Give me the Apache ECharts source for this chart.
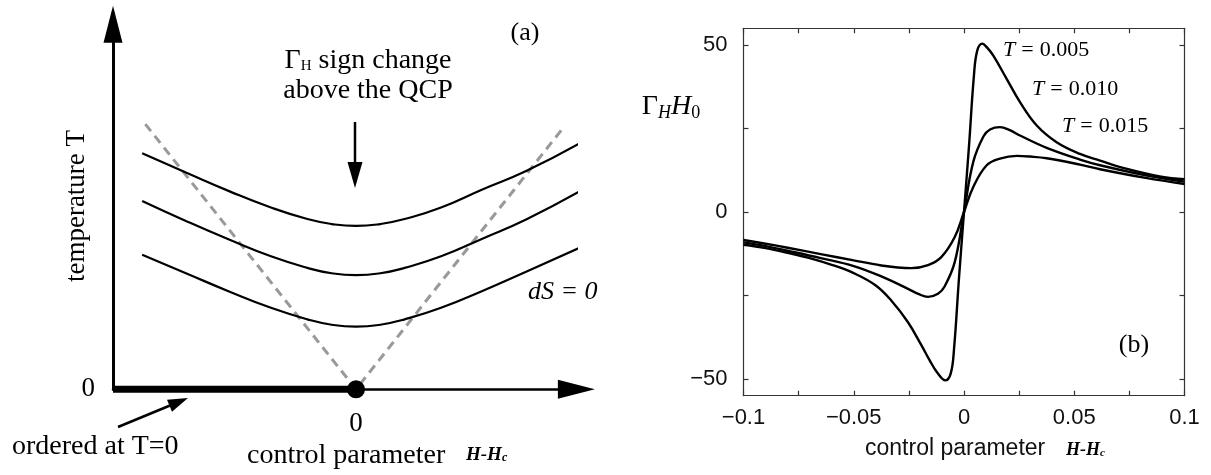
<!DOCTYPE html>
<html>
<head>
<meta charset="utf-8">
<script src="https://cdn.jsdelivr.net/npm/echarts@6/dist/echarts.min.js"></script>
<style>
html,body{margin:0;padding:0;background:#fff;}
#chart{width:1211px;height:475px;}
</style>
</head>
<body>
<div id="chart"></div>
<script>
// ---------- Panel (a): schematic ----------
const aX = [-0.88, -0.7, -0.52, -0.35, -0.2, -0.1, 0, 0.1, 0.2, 0.35, 0.52, 0.7, 0.92];
const aTop = [0.614, 0.564, 0.515, 0.473, 0.443, 0.430, 0.425, 0.430, 0.443, 0.473, 0.520, 0.568, 0.640];
const aMid = [0.490, 0.438, 0.389, 0.346, 0.316, 0.302, 0.297, 0.302, 0.316, 0.346, 0.392, 0.442, 0.515];
const aBot = [0.350, 0.302, 0.254, 0.212, 0.182, 0.168, 0.163, 0.168, 0.182, 0.212, 0.256, 0.306, 0.368];
const aDashX = [-0.867, 0, 0.856];
const aDashT = [0.69, 0, 0.683];
const aOrderedX = [-1, 0];
const aOrderedT = [0, 0];
const aQcpX = [0];
const aQcpT = [0];
const aTickLabels = [0];

// ---------- Panel (b): Gamma_H H0 vs H-Hc ----------
const b005X = [-0.1, -0.09, -0.08, -0.07, -0.06, -0.05, -0.04, -0.033, -0.0254, -0.0194, -0.0155, -0.012, -0.0085, -0.006, -0.0045, -0.0023, 0, 0.0023, 0.0045, 0.006, 0.0083, 0.0105, 0.0133, 0.0194, 0.0254, 0.033, 0.042, 0.0526, 0.0617, 0.0735, 0.0894, 0.1];
const b005Y = [-9.8, -10.8, -12.2, -13.8, -15.8, -18.3, -22.0, -26.5, -33.0, -39.8, -44.5, -48.2, -50.4, -48.3, -40.8, -20.0, 0, 20.0, 40.8, 48.3, 50.4, 49.2, 46.8, 39.8, 32.9, 25.9, 20.9, 17.4, 15.4, 13.0, 10.6, 9.8];
const b010X = [-0.1, -0.09, -0.08, -0.065, -0.05, -0.0375, -0.0254, -0.0205, -0.0163, -0.0118, -0.0088, -0.0042, 0, 0.0042, 0.0088, 0.0118, 0.0163, 0.0205, 0.0254, 0.0375, 0.0526, 0.0617, 0.0824, 0.1];
const b010Y = [-9.1, -10.2, -11.6, -13.8, -16.2, -19.3, -23.0, -24.6, -25.4, -24.5, -22.3, -15.0, 0, 15.0, 22.6, 24.7, 25.4, 24.6, 22.9, 19.2, 15.7, 14.0, 11.0, 9.1];
const b015X = [-0.1, -0.09, -0.08, -0.065, -0.05, -0.0375, -0.03, -0.0239, -0.0163, -0.0103, -0.0042, 0, 0.0042, 0.0103, 0.0163, 0.0239, 0.03, 0.0375, 0.0526, 0.0617, 0.0824, 0.1];
const b015Y = [-8.4, -9.5, -10.7, -12.6, -14.5, -16.0, -16.6, -16.8, -15.9, -13.5, -7.5, 0, 7.5, 14.0, 16.0, 16.8, 16.6, 16.1, 14.2, 12.8, 10.2, 8.4];
const bXTicks = [-0.1, -0.075, -0.05, -0.025, 0, 0.025, 0.05, 0.075, 0.1];
const bXLabels = [-0.1, -0.05, 0, 0.05, 0.1];
const bYTicks = [-50, -25, 0, 25, 50];
const bYLabels = [-50, 0, 50];
const bSeriesNames = ['T = 0.005', 'T = 0.010', 'T = 0.015'];

function pairs(xs, ys) { return xs.map((x, i) => [x, ys[i]]); }
const SERIF = '"Liberation Serif", "Times New Roman", serif';
const SANS = '"Liberation Sans", Arial, Helvetica, sans-serif';
const minus = v => String(v).replace('-', '\u2212');

const chart = echarts.init(document.getElementById('chart'), null, {renderer: 'canvas'});

const boxAxis = {
  axisLine: {show: true, onZero: false, lineStyle: {color: '#333', width: 1.2}},
  splitLine: {show: false}
};
const tLabel = (txt) => ({
  text: '{i|T}{e|=}' + txt, fontSize: 22, fontFamily: SERIF, fill: '#000', align: 'left', verticalAlign: 'middle',
  rich: {i: {fontSize: 22, fontStyle: 'italic', fontFamily: SERIF, fill: '#000'},
         e: {fontSize: 22, fontFamily: SERIF, fill: '#000', padding: [0, 6, 0, 6]}}
});

const option = {
  animation: false,
  backgroundColor: '#fff',
  grid: [
    {left: 113, top: 24.2, width: 463.4, height: 365.1, containLabel: false, outerBoundsMode: 'none'},
    {left: 743.5, top: 28.3, width: 441, height: 367.4, containLabel: false, outerBoundsMode: 'none'}
  ],
  xAxis: [
    {
      gridIndex: 0, type: 'value', min: -1, max: 0.907,
      axisLine: {show: true, onZero: false, symbol: ['none', 'triangle'], symbolSize: [19, 37], lineStyle: {color: '#000', width: 2.5}},
      axisTick: {show: false}, splitLine: {show: false},
      axisLabel: {customValues: aTickLabels, margin: 21, fontSize: 27, fontFamily: SERIF, color: '#000'}
    },
    Object.assign({
      gridIndex: 1, type: 'value', min: -0.1, max: 0.1, position: 'bottom',
      axisTick: {show: true, inside: true, length: 5, customValues: bXTicks, lineStyle: {color: '#333', width: 1.2}},
      axisLabel: {customValues: bXLabels, margin: 11, fontSize: 22, fontFamily: SANS, color: '#111', formatter: minus}
    }, boxAxis),
    Object.assign({
      gridIndex: 1, type: 'value', min: -0.1, max: 0.1, position: 'top',
      axisTick: {show: true, inside: true, length: 5, customValues: bXTicks, lineStyle: {color: '#333', width: 1.2}},
      axisLabel: {show: false}
    }, boxAxis)
  ],
  yAxis: [
    {
      gridIndex: 0, type: 'value', min: 0, max: 0.95,
      axisLine: {show: true, onZero: false, symbol: ['none', 'triangle'], symbolSize: [19, 37], lineStyle: {color: '#000', width: 3}},
      axisTick: {show: false}, splitLine: {show: false},
      axisLabel: {customValues: aTickLabels, margin: 18, fontSize: 27, fontFamily: SERIF, color: '#000'}
    },
    Object.assign({
      gridIndex: 1, type: 'value', min: -55, max: 55, position: 'left',
      axisTick: {show: true, inside: true, length: 5, customValues: bYTicks, lineStyle: {color: '#333', width: 1.2}},
      axisLabel: {customValues: bYLabels, margin: 16, fontSize: 22, fontFamily: SANS, color: '#111', formatter: minus}
    }, boxAxis),
    Object.assign({
      gridIndex: 1, type: 'value', min: -55, max: 55, position: 'right',
      axisTick: {show: true, inside: true, length: 5, customValues: bYTicks, lineStyle: {color: '#333', width: 1.2}},
      axisLabel: {show: false}
    }, boxAxis)
  ],
  series: [
    {type: 'line', xAxisIndex: 0, yAxisIndex: 0, data: pairs(aDashX, aDashT), showSymbol: false, clip: false,
      lineStyle: {color: '#999', width: 3, type: [9, 6]}, z: 2},
    {type: 'line', xAxisIndex: 0, yAxisIndex: 0, data: pairs(aX, aTop), smooth: 0.5, showSymbol: false, clip: false,
      lineStyle: {color: '#000', width: 2.2}, z: 3},
    {type: 'line', xAxisIndex: 0, yAxisIndex: 0, data: pairs(aX, aMid), smooth: 0.5, showSymbol: false, clip: false,
      lineStyle: {color: '#000', width: 2.2}, z: 3},
    {type: 'line', xAxisIndex: 0, yAxisIndex: 0, data: pairs(aX, aBot), smooth: 0.5, showSymbol: false, clip: false,
      lineStyle: {color: '#000', width: 2.2}, z: 3},
    {type: 'line', xAxisIndex: 0, yAxisIndex: 0, data: pairs(aOrderedX, aOrderedT), showSymbol: false, clip: false,
      lineStyle: {color: '#000', width: 7, cap: 'butt'}, z: 4},
    {type: 'scatter', xAxisIndex: 0, yAxisIndex: 0, data: pairs(aQcpX, aQcpT), symbol: 'circle', symbolSize: 18, clip: false,
      itemStyle: {color: '#000', opacity: 1}, z: 5},
    {name: bSeriesNames[0], type: 'line', xAxisIndex: 1, yAxisIndex: 1, data: pairs(b005X, b005Y), smooth: 0.4, showSymbol: false,
      lineStyle: {color: '#000', width: 2.4}},
    {name: bSeriesNames[1], type: 'line', xAxisIndex: 1, yAxisIndex: 1, data: pairs(b010X, b010Y), smooth: 0.4, showSymbol: false,
      lineStyle: {color: '#000', width: 2.4}},
    {name: bSeriesNames[2], type: 'line', xAxisIndex: 1, yAxisIndex: 1, data: pairs(b015X, b015Y), smooth: 0.4, showSymbol: false,
      lineStyle: {color: '#000', width: 2.4}}
  ],
  graphic: [
    // panel (a) texts
    {type: 'text', x: 525, y: 33, style: {text: '(a)', fontSize: 26, fontFamily: SERIF, fill: '#000', align: 'center', verticalAlign: 'middle'}},
    {type: 'text', x: 368, y: 61, style: {text: '{g|\u0393}{s|H} sign change', fontSize: 28, fontFamily: SERIF, fill: '#000', align: 'center', verticalAlign: 'middle',
      rich: {g: {fontSize: 28, fontFamily: SERIF, fill: '#000'}, s: {fontSize: 15, fontFamily: SERIF, fill: '#000', padding: [10, 0, 0, 0]}}}},
    {type: 'text', x: 368, y: 91, style: {text: 'above the QCP', fontSize: 28, fontFamily: SERIF, fill: '#000', align: 'center', verticalAlign: 'middle'}},
    {type: 'line', shape: {x1: 355, y1: 122, x2: 355, y2: 165}, style: {stroke: '#000', lineWidth: 2.5}},
    {type: 'polygon', shape: {points: [[347.5, 162], [362.5, 162], [355, 188]]}, style: {fill: '#000'}},
    {type: 'text', x: 76.5, y: 206, rotation: Math.PI / 2, style: {text: 'temperature T', fontSize: 27, fontFamily: SERIF, fill: '#000', align: 'center', verticalAlign: 'middle'}},
    {type: 'text', x: 528, y: 292, style: {text: 'dS = 0', fontSize: 26, fontStyle: 'italic', fontFamily: SERIF, fill: '#000', align: 'left', verticalAlign: 'middle'}},
    {type: 'text', x: 12, y: 447, style: {text: 'ordered at T=0', fontSize: 28, fontFamily: SERIF, fill: '#000', align: 'left', verticalAlign: 'middle'}},
    {type: 'line', shape: {x1: 118, y1: 427, x2: 170, y2: 405.5}, style: {stroke: '#000', lineWidth: 2.5}},
    {type: 'polygon', shape: {points: [[172, 411.7], [167, 399.7], [188, 398]]}, style: {fill: '#000'}},
    {type: 'text', x: 247, y: 456, style: {text: 'control parameter', fontSize: 28, fontFamily: SERIF, fill: '#000', align: 'left', verticalAlign: 'middle'}},
    {type: 'text', x: 466, y: 455, style: {text: '{h|H-H}{c|c}', fontSize: 19, fontFamily: SERIF, fill: '#000', align: 'left', verticalAlign: 'middle',
      rich: {h: {fontSize: 19, fontWeight: 'bold', fontStyle: 'italic', fontFamily: SERIF, fill: '#000'},
             c: {fontSize: 12, fontWeight: 'bold', fontStyle: 'italic', fontFamily: SERIF, fill: '#000', padding: [6, 0, 0, 0]}}}},
    // panel (b) texts
    {type: 'text', x: 671, y: 107, style: {text: '{g|\u0393}{si|H}{i|H}{s|0}', fontSize: 28, fontFamily: SERIF, fill: '#000', align: 'center', verticalAlign: 'middle',
      rich: {g: {fontSize: 28, fontFamily: SERIF, fill: '#000'},
             si: {fontSize: 18, fontStyle: 'italic', fontFamily: SERIF, fill: '#000', padding: [13, 0, 0, 0]},
             i: {fontSize: 28, fontStyle: 'italic', fontFamily: SERIF, fill: '#000'},
             s: {fontSize: 18, fontFamily: SERIF, fill: '#000', padding: [13, 0, 0, 0]}}}},
    {type: 'text', x: 1003, y: 50, style: tLabel('0.005')},
    {type: 'text', x: 1032, y: 89, style: tLabel('0.010')},
    {type: 'text', x: 1062, y: 126, style: tLabel('0.015')},
    {type: 'text', x: 1134, y: 345, style: {text: '(b)', fontSize: 26, fontFamily: SERIF, fill: '#000', align: 'center', verticalAlign: 'middle'}},
    {type: 'text', x: 865, y: 449, style: {text: 'control parameter', fontSize: 23, fontFamily: SANS, fill: '#111', align: 'left', verticalAlign: 'middle'}},
    {type: 'text', x: 1066, y: 450, style: {text: '{h|H-H}{c|c}', fontSize: 18, fontFamily: SERIF, fill: '#000', align: 'left', verticalAlign: 'middle',
      rich: {h: {fontSize: 18, fontWeight: 'bold', fontStyle: 'italic', fontFamily: SERIF, fill: '#000'},
             c: {fontSize: 11, fontWeight: 'bold', fontStyle: 'italic', fontFamily: SERIF, fill: '#000', padding: [6, 0, 0, 0]}}}}
  ]
};
chart.setOption(option);
</script>
</body>
</html>
